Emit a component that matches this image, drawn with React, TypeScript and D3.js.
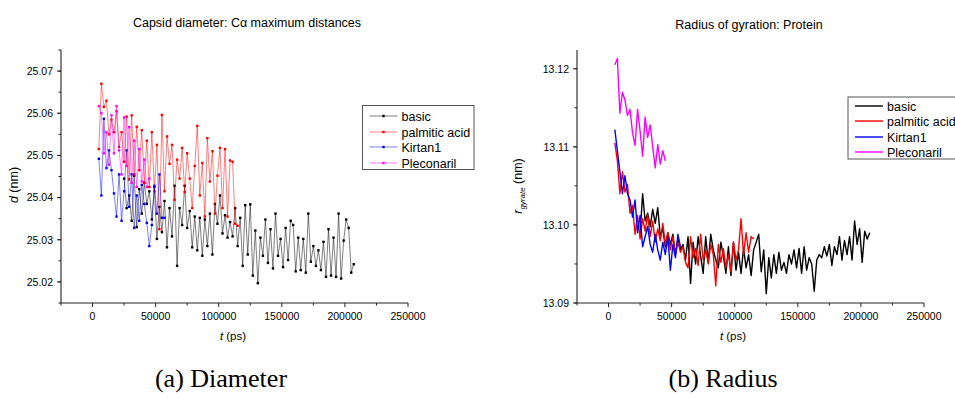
import { useEffect, useRef } from "react";
import * as d3 from "d3";

// series shared by both panels
const seriesNames = ["basic", "palmitic acid", "Kirtan1", "Pleconaril"];
const seriesColors = ["#000000", "#ff0000", "#0000ff", "#ff00ff"];
const seriesStart = [25000, 5000, 5000, 5000]; // first sample time (ps)
const sampleStep = 2000; // ps between samples

const xTicks = [0, 50000, 100000, 150000, 200000, 250000];
const diamTicks = [25.02, 25.03, 25.04, 25.05, 25.06, 25.07];
const rgTicks = [13.09, 13.1, 13.11, 13.12];

// (a) capsid diameter, nm
const diamBasic = [
  25.0445, 25.0375, 25.0405, 25.0345, 25.0452, 25.033, 25.042, 25.0362, 25.0435, 25.0385,
  25.0415, 25.0348, 25.0425, 25.0302, 25.0378, 25.0318, 25.0392, 25.0282, 25.0375, 25.0308,
  25.0428, 25.0238, 25.0375, 25.0335, 25.0428, 25.0328, 25.0368, 25.0282, 25.0355, 25.0275,
  25.0352, 25.0262, 25.0348, 25.0285, 25.0362, 25.0265, 25.0385, 25.0338, 25.0405, 25.0315,
  25.0358, 25.0305, 25.0342, 25.0308, 25.0375, 25.0285, 25.0352, 25.0238, 25.0382, 25.0265,
  25.0384, 25.0215, 25.0322, 25.0197, 25.0305, 25.0262, 25.0348, 25.0245, 25.0325, 25.0232,
  25.0362, 25.0262, 25.0302, 25.0235, 25.0328, 25.0252, 25.0345, 25.0335, 25.0225, 25.0305,
  25.0228, 25.0302, 25.0222, 25.0362, 25.0248, 25.0285, 25.0238, 25.0275, 25.0228, 25.0295,
  25.0212, 25.0325, 25.0215, 25.0305, 25.0212, 25.0362, 25.0208, 25.0298, 25.0348, 25.0328,
  25.0222, 25.0242,
];
const diamPalmitic = [
  25.0515, 25.067, 25.0615, 25.063, 25.055, 25.0585, 25.0555, 25.0605, 25.052, 25.0555,
  25.0485, 25.0592, 25.0443, 25.0595, 25.0455, 25.0568, 25.0465, 25.056, 25.0435, 25.0535,
  25.0425, 25.0555, 25.0415, 25.0525, 25.0325, 25.0596, 25.0415, 25.0545, 25.048, 25.0525,
  25.0395, 25.049, 25.0445, 25.0518, 25.0413, 25.0505, 25.0445, 25.0375, 25.0475, 25.057,
  25.0405, 25.0482, 25.0355, 25.0541, 25.0438, 25.051, 25.0362, 25.0452, 25.0518, 25.0375,
  25.0515, 25.0355, 25.0488, 25.0485, 25.0338, 25.0333,
];
const diamKirtan = [
  25.0492, 25.0405, 25.0587, 25.047, 25.0512, 25.0465, 25.041, 25.0355, 25.0455, 25.0345,
  25.0415, 25.0512, 25.0378, 25.0455, 25.0328, 25.0405, 25.0345, 25.043, 25.0385, 25.034,
  25.0285, 25.0335, 25.0428, 25.0362, 25.0455, 25.0352, 25.0352,
];
const diamPleconaril = [
  25.0617, 25.06, 25.0505, 25.0555, 25.0478, 25.0595, 25.0505, 25.0617, 25.0512, 25.0455,
  25.059, 25.0475, 25.0567, 25.0435, 25.0535, 25.0425, 25.0515, 25.0438, 25.049, 25.0425,
  25.0445,
];

// (b) radius of gyration, nm
const rgBasic = [
  13.0988, 13.104, 13.1005, 13.1015, 13.0998, 13.102, 13.1002, 13.1022, 13.0985, 13.0995,
  13.0972, 13.099, 13.0975, 13.0988, 13.0962, 13.0982, 13.0968, 13.0975, 13.0955, 13.0985,
  13.0925, 13.0978, 13.095, 13.0985, 13.096, 13.0938, 13.0985, 13.0952, 13.0988, 13.0968,
  13.0955, 13.0945, 13.0978, 13.096, 13.0938, 13.0972, 13.0935, 13.0978, 13.0942, 13.0965,
  13.0938, 13.097, 13.0945, 13.0962, 13.0935, 13.0968, 13.0978, 13.0988, 13.094, 13.0968,
  13.0912, 13.0958, 13.0932, 13.0962, 13.0938, 13.0965, 13.0942, 13.0952, 13.0938, 13.0962,
  13.095, 13.0968, 13.0945, 13.097, 13.0938, 13.0972, 13.0942, 13.0958, 13.095, 13.0915,
  13.0955, 13.0962, 13.0958, 13.0972, 13.096, 13.0975, 13.0948, 13.0972, 13.0962, 13.0985,
  13.0955, 13.098, 13.0962, 13.0985, 13.0955, 13.1005, 13.0975, 13.0995, 13.0952, 13.0992,
  13.0982, 13.099,
];
const rgPalmitic = [
  13.1105, 13.1082, 13.104, 13.1068, 13.1042, 13.1052, 13.1015, 13.1025, 13.0988, 13.1012,
  13.0982, 13.1008, 13.0992, 13.1013, 13.0985, 13.1005, 13.0978, 13.0995, 13.098, 13.1002,
  13.0975, 13.099, 13.0968, 13.0985, 13.0962, 13.0978, 13.0965, 13.0972, 13.0952, 13.0945,
  13.0985, 13.0958, 13.097, 13.0948, 13.0988, 13.0955, 13.0968, 13.095, 13.0975, 13.0962,
  13.0922, 13.0975, 13.0952, 13.097, 13.0945, 13.0962, 13.094, 13.0978, 13.0955, 13.0968,
  13.1008, 13.0962, 13.099, 13.0965, 13.0985, 13.0982,
];
const rgKirtan = [
  13.1122, 13.1095, 13.1068, 13.104, 13.1063, 13.104, 13.1032, 13.101, 13.1032, 13.099,
  13.1012, 13.0972, 13.0985, 13.0998, 13.0975, 13.0965, 13.0988, 13.0968, 13.0955, 13.0978,
  13.0962, 13.0985, 13.0942, 13.0975, 13.0958, 13.0988, 13.0972,
];
const rgPleconaril = [
  13.1205, 13.1213, 13.1143, 13.117, 13.116, 13.114, 13.1148, 13.1118, 13.1102, 13.1148,
  13.112, 13.1088, 13.1138, 13.1112, 13.1128, 13.11, 13.1073, 13.1103, 13.1078, 13.1095,
  13.1082,
];

const FONT = "Liberation Sans, Arial, sans-serif";

type Panel = {
  left: number;
  right: number;
  top: number;
  bottom: number;
  yDomain: [number, number];
  yTicks: number[];
  yMinorStep: number;
  series: number[][];
  markers: boolean;
  title: string;
  titleX: number;
  titleY: number;
  legend: { x: number; y: number; w: number; h: number; rowY: number[] };
  yLabelX: number;
  xLabelX: number;
};

function drawPanel(root: d3.Selection<SVGSVGElement, unknown, null, undefined>, p: Panel) {
  const x = d3.scaleLinear().domain([-25000, 250000]).range([p.left, p.right]);
  const y = d3.scaleLinear().domain(p.yDomain).range([p.bottom, p.top]);
  const g = root.append("g");

  // axes lines
  g.append("line").attr("x1", p.left).attr("x2", p.right).attr("y1", p.bottom).attr("y2", p.bottom)
    .attr("stroke", "#222").attr("stroke-width", 1.1);
  g.append("line").attr("x1", p.left).attr("x2", p.left).attr("y1", p.top).attr("y2", p.bottom)
    .attr("stroke", "#222").attr("stroke-width", 1.1);

  // x ticks (major every 50000, minor every 25000)
  const xMinor = d3.range(-25000, 250001, 25000);
  g.selectAll(".xmin").data(xMinor).enter().append("line")
    .attr("x1", (d) => x(d)).attr("x2", (d) => x(d))
    .attr("y1", p.bottom).attr("y2", (d) => p.bottom + (d % 50000 === 0 ? 4 : 2.5))
    .attr("stroke", "#222");
  g.selectAll(".xlab").data(xTicks).enter().append("text")
    .attr("x", (d) => x(d)).attr("y", p.bottom + 17)
    .attr("text-anchor", "middle").attr("font-family", FONT).attr("font-size", 10.5)
    .text((d) => String(d));

  // y ticks
  const yMinor = d3.range(p.yDomain[0], p.yDomain[1] + 1e-9, p.yMinorStep);
  g.selectAll(".ymin").data(yMinor).enter().append("line")
    .attr("x1", p.left).attr("x2", p.left - 2.5)
    .attr("y1", (d) => y(d)).attr("y2", (d) => y(d))
    .attr("stroke", "#222");
  g.selectAll(".ymaj").data(p.yTicks).enter().append("line")
    .attr("x1", p.left).attr("x2", p.left - 4)
    .attr("y1", (d) => y(d)).attr("y2", (d) => y(d))
    .attr("stroke", "#222");
  g.selectAll(".ylab").data(p.yTicks).enter().append("text")
    .attr("x", p.left - 8).attr("y", (d) => y(d) + 3.8)
    .attr("text-anchor", "end").attr("font-family", FONT).attr("font-size", 10.5)
    .text((d) => d.toFixed(2));

  // data
  p.series.forEach((vals, i) => {
    const pts = vals.map((v, k) => [seriesStart[i] + k * sampleStep, v] as [number, number]);
    const line = d3.line<[number, number]>().x((d) => x(d[0])).y((d) => y(d[1]));
    g.append("path").attr("d", line(pts)).attr("fill", "none")
      .attr("stroke", seriesColors[i])
      .attr("stroke-width", p.markers ? 1 : 1.4)
      .attr("stroke-opacity", p.markers ? 0.5 : 1)
      .attr("stroke-linejoin", "round");
    if (p.markers) {
      g.selectAll(".m" + i).data(pts).enter().append("rect")
        .attr("x", (d) => x(d[0]) - 1.2).attr("y", (d) => y(d[1]) - 1.2)
        .attr("width", 2.4).attr("height", 2.4)
        .attr("fill", seriesColors[i]);
    }
  });

  // title
  g.append("text").attr("x", p.titleX).attr("y", p.titleY).attr("text-anchor", "middle")
    .attr("font-family", FONT).attr("font-size", 12.5).text(p.title);

  // x label
  const xl = g.append("text").attr("x", p.xLabelX).attr("y", 340).attr("text-anchor", "middle")
    .attr("font-family", FONT).attr("font-size", 11.5);
  xl.append("tspan").attr("font-style", "italic").text("t");
  xl.append("tspan").text(" (ps)");

  // legend
  const L = p.legend;
  g.append("rect").attr("x", L.x).attr("y", L.y).attr("width", L.w).attr("height", L.h)
    .attr("fill", "#fff").attr("stroke", "#555").attr("stroke-width", 1);
  seriesNames.forEach((name, i) => {
    const ry = L.rowY[i];
    g.append("line").attr("x1", L.x + 7).attr("x2", L.x + 35).attr("y1", ry).attr("y2", ry)
      .attr("stroke", seriesColors[i]).attr("stroke-width", p.markers ? 1 : 1.4)
      .attr("stroke-opacity", p.markers ? 0.5 : 1);
    if (p.markers) {
      g.append("rect").attr("x", L.x + 21 - 1.2).attr("y", ry - 1.2).attr("width", 2.4).attr("height", 2.4)
        .attr("fill", seriesColors[i]);
    }
    g.append("text").attr("x", L.x + 39).attr("y", ry + 4.5)
      .attr("font-family", FONT).attr("font-size", 12.5).text(name);
  });
}

export default function App() {
  const svgRef = useRef<SVGSVGElement>(null);

  useEffect(() => {
    if (!svgRef.current) return;
    const svg = d3.select(svgRef.current);
    svg.selectAll("*").remove();

    drawPanel(svg, {
      left: 61, right: 408, top: 50, bottom: 303,
      yDomain: [25.015, 25.075], yTicks: diamTicks, yMinorStep: 0.005,
      series: [diamBasic, diamPalmitic, diamKirtan, diamPleconaril],
      markers: true,
      title: "Capsid diameter: C\u03b1 maximum distances",
      titleX: 247, titleY: 27,
      legend: { x: 362.5, y: 105.5, w: 111.5, h: 64, rowY: [116, 132, 147, 163] },
      yLabelX: 14, xLabelX: 233,
    });
    drawPanel(svg, {
      left: 577, right: 924, top: 50, bottom: 303,
      yDomain: [13.09, 13.1224], yTicks: rgTicks, yMinorStep: 0.005,
      series: [rgBasic, rgPalmitic, rgKirtan, rgPleconaril],
      markers: false,
      title: "Radius of gyration: Protein",
      titleX: 749, titleY: 29,
      legend: { x: 848, y: 97, w: 120, h: 62, rowY: [106, 121, 137, 152] },
      yLabelX: 518, xLabelX: 733,
    });

    // y labels
    const dl = svg.append("text").attr("transform", "translate(18,185) rotate(-90)")
      .attr("text-anchor", "middle").attr("font-family", FONT).attr("font-size", 12.5);
    dl.append("tspan").attr("font-style", "italic").text("d");
    dl.append("tspan").text(" (nm)");

    const rl = svg.append("text").attr("transform", "translate(522,186) rotate(-90)")
      .attr("text-anchor", "middle").attr("font-family", FONT).attr("font-size", 12.5);
    rl.append("tspan").attr("font-style", "italic").text("r");
    rl.append("tspan").attr("font-style", "italic").attr("font-size", 8).attr("dy", 3).text("gyrate");
    rl.append("tspan").attr("dy", -3).text(" (nm)");

    // sub-figure captions
    const caps = [["(a) Diameter", 221], ["(b) Radius", 723]] as const;
    caps.forEach(([txt, cx]) => {
      svg.append("text").attr("x", cx).attr("y", 387).attr("text-anchor", "middle")
        .attr("font-family", "Liberation Serif, serif").attr("font-size", 26).text(txt);
    });
  }, []);

  return (
    <div style={{ position: "absolute", left: 0, top: 0, width: 955, height: 398, overflow: "hidden", background: "#fff" }}>
      <svg ref={svgRef} width={955} height={398} style={{ display: "block" }}></svg>
    </div>
  );
}
